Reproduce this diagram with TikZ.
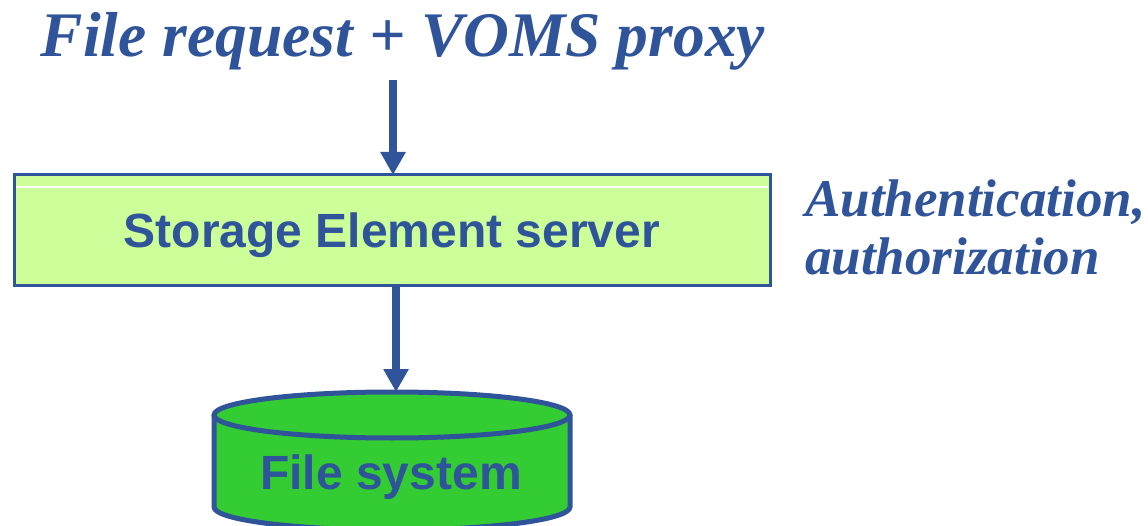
\documentclass[tikz,border=0pt]{standalone}
\usepackage{fontspec}
\setmainfont{Liberation Serif}
\setsansfont{Liberation Sans}
\usetikzlibrary{arrows.meta}
\definecolor{ink}{HTML}{2F549A}
\definecolor{boxfill}{HTML}{CCFF99}
\definecolor{cylfill}{HTML}{33CC33}
\tikzset{
  titletext/.style={font=\fontsize{63.5}{70}\selectfont\bfseries\itshape, text=ink, inner sep=0pt, anchor=base},
  sidetext/.style={font=\fontsize{53}{58}\selectfont\bfseries\itshape, text=ink, inner sep=0pt, anchor=base west},
  boxtext/.style={font=\fontsize{48}{56}\selectfont\sffamily\bfseries, text=ink, inner sep=0pt},
  flowarrow/.style={draw=ink, line width=8pt, -{Triangle[length=23pt,width=24pt]}},
  cylline/.style={draw=ink, line width=5pt},
}
\begin{document}
\begin{tikzpicture}[x=1pt,y=-1pt]
\useasboundingbox (0,0) rectangle (1148,526);
% title
\node[titletext] (title) at (403,57) {File request + VOMS proxy};
% server box
\draw[ink, fill=boxfill, line width=3pt] (14,175) rectangle (770,286);
\draw[white, line width=1.2pt] (16,187) -- (768,187);
\node[boxtext] (server) at (392,235) {Storage Element server};
\coordinate (servertop) at (393,175);
\coordinate (serverbot) at (396,287);
% side text
\node[sidetext] (auth1) at (805,217) {Authentication,};
\node[sidetext] (auth2) at (805,275) {authorization};
% cylinder
\fill[cylfill] (214,415) -- (214,507) arc[start angle=180,end angle=0,x radius=178,y radius=23] -- (570,415) arc[start angle=0,end angle=-180,x radius=178,y radius=23] -- cycle;
\fill[cylfill] (392,415) ellipse[x radius=178,y radius=23];
\draw[cylline] (214,415) -- (214,507) arc[start angle=180,end angle=0,x radius=178,y radius=23] -- (570,415);
\draw[cylline] (392,415) ellipse[x radius=178,y radius=23];
\coordinate (cyltop) at (396,392);
\node[boxtext] (fs) at (391,477) {File system};
% arrows
\coordinate (arrstart) at (393,80);
\draw[flowarrow] (arrstart) -- (servertop);
\draw[flowarrow] (serverbot) -- (cyltop);
\end{tikzpicture}
\end{document}
